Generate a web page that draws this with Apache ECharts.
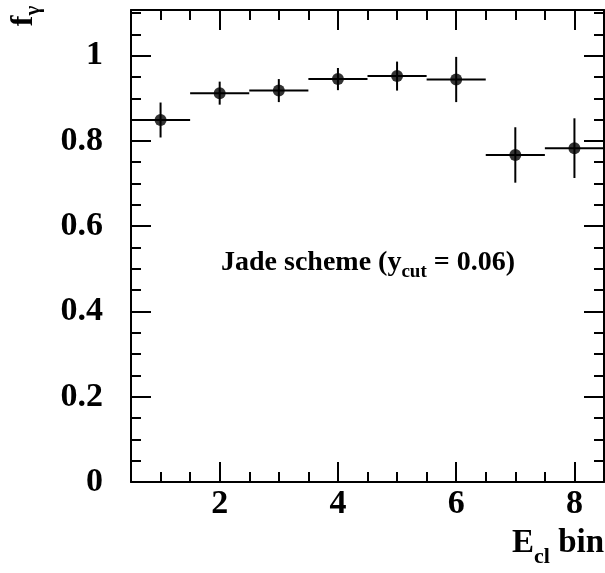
<!DOCTYPE html>
<html>
<head>
<meta charset="utf-8">
<script src="https://cdn.jsdelivr.net/npm/echarts@6/dist/echarts.min.js"></script>
<style>
html,body{margin:0;padding:0;background:#fff;}
#chart{width:605px;height:573px;}
</style>
</head>
<body>
<div id="chart"></div>
<script>
// ---- data ----
const bins = [1, 2, 3, 4, 5, 6, 7, 8];
const fGamma = [0.849, 0.912, 0.918, 0.945, 0.952, 0.944, 0.767, 0.783];
const fGammaErr = [0.041, 0.027, 0.027, 0.026, 0.034, 0.053, 0.065, 0.070];
const binHalfWidth = [0.5, 0.5, 0.5, 0.5, 0.5, 0.5, 0.5, 0.5];

const xLabelValues = [2, 4, 6, 8];
const xMinorTicks = [1, 1.5, 2.5, 3, 3.5, 4.5, 5, 5.5, 6.5, 7, 7.5];
const yLabelValues = [0, 0.2, 0.4, 0.6, 0.8, 1];
const yMajorTicks = [0.2, 0.4, 0.6, 0.8, 1];
const yMinorTicks = [0.05, 0.1, 0.15, 0.25, 0.3, 0.35, 0.45, 0.5, 0.55, 0.65, 0.7, 0.75, 0.85, 0.9, 0.95, 1.05, 1.1];

const X_MIN = 0.5, X_MAX = 8.5, Y_MIN = 0, Y_MAX = 1.107;

// ---- chart ----
const FONT = 'Liberation Serif';
const chart = echarts.init(document.getElementById('chart'), null, {renderer: 'canvas'});

function xAx(position, ticks, len, showLine, showLabel) {
  return {
    type: 'value', min: X_MIN, max: X_MAX, position: position, gridIndex: 0,
    axisLine: {show: showLine, onZero: false, lineStyle: {color: '#000', width: 2}},
    axisTick: {show: true, inside: true, length: len, customValues: ticks, lineStyle: {color: '#000', width: 2}},
    axisLabel: showLabel ? {show: true, customValues: xLabelValues, margin: 5, color: '#000',
      fontFamily: FONT, fontWeight: 'bold', fontSize: 34} : {show: false},
    splitLine: {show: false}
  };
}
function yAx(position, ticks, len, showLine, showLabel) {
  return {
    type: 'value', min: Y_MIN, max: Y_MAX, position: position, gridIndex: 0,
    axisLine: {show: showLine, onZero: false, lineStyle: {color: '#000', width: 2}},
    axisTick: {show: true, inside: true, length: len, customValues: ticks, lineStyle: {color: '#000', width: 2}},
    axisLabel: showLabel ? {show: true, customValues: yLabelValues, margin: 28, color: '#000',
      fontFamily: FONT, fontWeight: 'bold', fontSize: 34} : {show: false},
    splitLine: {show: false}
  };
}

const option = {
  backgroundColor: '#fff',
  animation: false,
  grid: {left: 131, right: 1, top: 10, bottom: 91, containLabel: false},
  xAxis: [
    xAx('bottom', xLabelValues, 20, true, true),
    xAx('bottom', xMinorTicks, 10, false, false),
    xAx('top', xLabelValues, 20, true, false),
    xAx('top', xMinorTicks, 10, false, false)
  ],
  yAxis: [
    yAx('left', yMajorTicks, 20, true, true),
    yAx('left', yMinorTicks, 10, false, false),
    yAx('right', yMajorTicks, 20, true, false),
    yAx('right', yMinorTicks, 10, false, false)
  ],
  series: [
    {
      type: 'custom',
      xAxisIndex: 0, yAxisIndex: 0,
      data: bins.map((b, i) => [b, fGamma[i], fGammaErr[i], binHalfWidth[i]]),
      renderItem: function (params, api) {
        const x = api.value(0), y = api.value(1), ey = api.value(2), ex = api.value(3);
        const a = api.coord([x - ex, y]), b = api.coord([x + ex, y]);
        const c = api.coord([x, y - ey]), d = api.coord([x, y + ey]);
        const st = {stroke: '#000', lineWidth: 2};
        return {type: 'group', children: [
          {type: 'line', shape: {x1: a[0], y1: a[1], x2: b[0], y2: b[1]}, style: st},
          {type: 'line', shape: {x1: c[0], y1: c[1], x2: d[0], y2: d[1]}, style: st}
        ]};
      },
      z: 2
    },
    {
      type: 'scatter',
      xAxisIndex: 0, yAxisIndex: 0,
      data: bins.map((b, i) => [b, fGamma[i]]),
      symbol: 'circle', symbolSize: 12,
      itemStyle: {color: '#000'},
      z: 3
    }
  ],
  graphic: [
    {
      type: 'text', x: 368, y: 263,
      style: {
        text: '{m|Jade scheme (y}{s|cut}{m| = 0.06)}',
        align: 'center', verticalAlign: 'middle',
        rich: {
          m: {fontFamily: FONT, fontWeight: 'bold', fontSize: 28, lineHeight: 28, fill: '#000'},
          s: {fontFamily: FONT, fontWeight: 'bold', fontSize: 19, lineHeight: 19, padding: [18, 0, 0, 0], fill: '#000'}
        }
      }
    },
    {
      type: 'text', x: 604, y: 543,
      style: {
        text: '{m|E}{s|cl}{m| bin}',
        align: 'right', verticalAlign: 'middle',
        rich: {
          m: {fontFamily: FONT, fontWeight: 'bold', fontSize: 33, lineHeight: 33, fill: '#000'},
          s: {fontFamily: FONT, fontWeight: 'bold', fontSize: 22, lineHeight: 22, padding: [28, 0, 0, 0], fill: '#000'}
        }
      }
    },
    {
      type: 'text', x: 24, y: 16, rotation: Math.PI / 2,
      style: {
        text: '{m|f}{s|γ}',
        align: 'center', verticalAlign: 'middle',
        rich: {
          m: {fontFamily: FONT, fontWeight: 'bold', fontSize: 32, lineHeight: 32, fill: '#000'},
          s: {fontFamily: FONT, fontWeight: 'bold', fontSize: 21, lineHeight: 21, padding: [20, 0, 0, 0], fill: '#000'}
        }
      }
    }
  ]
};
chart.setOption(option);
</script>
</body>
</html>
